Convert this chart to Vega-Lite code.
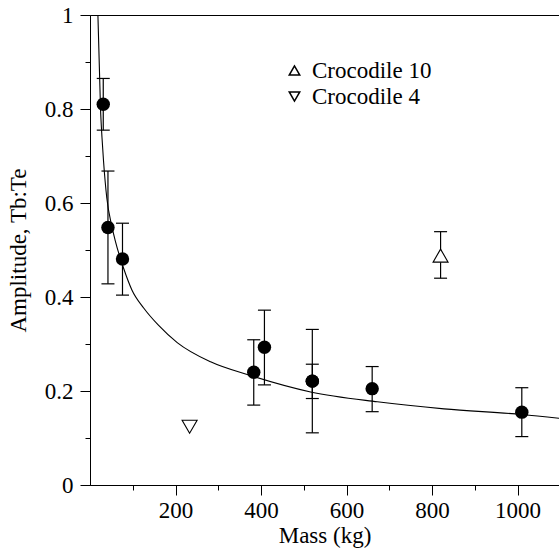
{
  "$schema": "https://vega.github.io/schema/vega-lite/v6.json",
  "width": 469,
  "height": 470,
  "autosize": {"type": "none"},
  "padding": {"left": 90, "top": 15, "right": 0, "bottom": 73},
  "background": "white",
  "config": {
    "view": {"stroke": "black", "strokeWidth": 1},
    "font": "'Liberation Serif', 'Times New Roman', 'DejaVu Serif', serif",
    "text": {"font": "'Liberation Serif', 'Times New Roman', 'DejaVu Serif', serif"},
    "axis": {
      "grid": false,
      "domainColor": "black",
      "domainWidth": 1,
      "tickColor": "black",
      "tickWidth": 1,
      "labelColor": "black",
      "titleColor": "black",
      "labelFont": "'Liberation Serif', 'Times New Roman', 'DejaVu Serif', serif",
      "titleFont": "'Liberation Serif', 'Times New Roman', 'DejaVu Serif', serif",
      "labelFontSize": 23,
      "titleFontSize": 23,
      "titleFontWeight": "normal"
    },
    "legend": {
      "labelFont": "'Liberation Serif', 'Times New Roman', 'DejaVu Serif', serif",
      "labelFontSize": 23,
      "labelColor": "black"
    }
  },
  "datasets": {
    "fit": [
      {"mass": 18.5, "amp": 1.0},
      {"mass": 24.6, "amp": 0.8},
      {"mass": 28, "amp": 0.74},
      {"mass": 31.6, "amp": 0.69},
      {"mass": 39.4, "amp": 0.61},
      {"mass": 50, "amp": 0.555},
      {"mass": 59, "amp": 0.52},
      {"mass": 79, "amp": 0.46},
      {"mass": 98, "amp": 0.415},
      {"mass": 126, "amp": 0.376},
      {"mass": 160, "amp": 0.34},
      {"mass": 204, "amp": 0.303},
      {"mass": 282, "amp": 0.262},
      {"mass": 375, "amp": 0.233},
      {"mass": 516, "amp": 0.198},
      {"mass": 672, "amp": 0.177},
      {"mass": 828, "amp": 0.162},
      {"mass": 1011, "amp": 0.15},
      {"mass": 1097, "amp": 0.142}
    ],
    "pts": [
      {"mass": 31, "amp": 0.81, "lo": 0.755, "hi": 0.865, "kind": "obs"},
      {"mass": 42, "amp": 0.548, "lo": 0.428, "hi": 0.668, "kind": "obs"},
      {"mass": 76, "amp": 0.481, "lo": 0.404, "hi": 0.557, "kind": "obs"},
      {"mass": 383, "amp": 0.24, "lo": 0.17, "hi": 0.309, "kind": "obs"},
      {"mass": 408, "amp": 0.293, "lo": 0.213, "hi": 0.372, "kind": "obs"},
      {"mass": 520, "amp": 0.221, "lo": 0.111, "hi": 0.331, "kind": "obs"},
      {"mass": 520, "amp": 0.221, "lo": 0.184, "hi": 0.257, "kind": "obs"},
      {"mass": 660, "amp": 0.205, "lo": 0.156, "hi": 0.252, "kind": "obs"},
      {"mass": 1010, "amp": 0.155, "lo": 0.103, "hi": 0.207, "kind": "obs"},
      {"mass": 820, "amp": 0.488, "lo": 0.44, "hi": 0.539, "kind": "Crocodile 10"},
      {"mass": 233, "amp": 0.124, "lo": null, "hi": null, "kind": "Crocodile 4"}
    ]
  },
  "resolve": {"axis": {"x": "independent", "y": "independent"}},
  "layer": [
    {
      "data": {"name": "fit"},
      "mark": {"type": "line", "color": "black", "strokeWidth": 1.1, "interpolate": "monotone", "clip": true},
      "encoding": {
        "x": {
          "field": "mass", "type": "quantitative",
          "scale": {"domain": [0, 1097], "nice": false, "zero": false},
          "axis": {"orient": "bottom", "values": [200, 400, 600, 800, 1000], "labelExpr": "'' + datum.value", "tickSize": 10, "labelPadding": 4, "title": "Mass (kg)", "titlePadding": 2}
        },
        "y": {
          "field": "amp", "type": "quantitative",
          "scale": {"domain": [0, 1], "nice": false},
          "axis": {"orient": "left", "values": [0, 0.2, 0.4, 0.6, 0.8, 1], "labelExpr": "'' + datum.value", "tickSize": 10, "labelPadding": 7, "title": "Amplitude, Tb:Te", "titlePadding": 14}
        }
      }
    },
    {
      "data": {"name": "pts"},
      "transform": [{"filter": "datum.lo != null"}],
      "mark": {"type": "rule", "color": "black", "strokeWidth": 1.2},
      "encoding": {
        "x": {
          "field": "mass", "type": "quantitative",
          "axis": {"orient": "bottom", "values": [100, 300, 500, 700, 900], "tickSize": 5, "labels": false, "domain": false, "title": null}
        },
        "y": {
          "field": "lo", "type": "quantitative",
          "axis": {"orient": "left", "values": [0.1, 0.3, 0.5, 0.7, 0.9], "tickSize": 5, "labels": false, "domain": false, "title": null}
        },
        "y2": {"field": "hi"}
      }
    },
    {
      "data": {"name": "pts"},
      "transform": [{"filter": "datum.lo != null"}],
      "mark": {"type": "tick", "orient": "horizontal", "color": "black", "size": 13, "thickness": 1.2, "opacity": 1},
      "encoding": {
        "x": {"field": "mass", "type": "quantitative", "axis": null},
        "y": {"field": "hi", "type": "quantitative", "axis": null}
      }
    },
    {
      "data": {"name": "pts"},
      "transform": [{"filter": "datum.lo != null"}],
      "mark": {"type": "tick", "orient": "horizontal", "color": "black", "size": 13, "thickness": 1.2, "opacity": 1},
      "encoding": {
        "x": {"field": "mass", "type": "quantitative", "axis": null},
        "y": {"field": "lo", "type": "quantitative", "axis": null}
      }
    },
    {
      "data": {"name": "pts"},
      "transform": [{"filter": "datum.kind == 'obs'"}],
      "mark": {"type": "point", "shape": "circle", "filled": true, "color": "black", "size": 180, "opacity": 1},
      "encoding": {
        "x": {"field": "mass", "type": "quantitative", "axis": null},
        "y": {"field": "amp", "type": "quantitative", "axis": null}
      }
    },
    {
      "data": {"name": "pts"},
      "transform": [{"filter": "datum.kind != 'obs'"}],
      "mark": {"type": "point", "fill": "white", "stroke": "black", "strokeWidth": 1.1, "size": 225, "opacity": 1, "filled": true},
      "encoding": {
        "x": {"field": "mass", "type": "quantitative", "axis": null},
        "y": {"field": "amp", "type": "quantitative", "axis": null},
        "shape": {
          "field": "kind", "type": "nominal",
          "scale": {"domain": ["Crocodile 10", "Crocodile 4"], "range": ["triangle-up", "triangle-down"]},
          "legend": {
            "title": null, "orient": "none", "legendX": 193, "legendY": 44,
            "symbolSize": 110, "rowPadding": 2, "labelOffset": 6, "padding": 0,
            "encode": {
              "symbols": {
                "update": {
                  "fill": {"value": "white"},
                  "stroke": {"value": "black"},
                  "strokeWidth": {"value": 1},
                  "opacity": {"value": 1}
                }
              }
            }
          }
        }
      }
    }
  ]
}
